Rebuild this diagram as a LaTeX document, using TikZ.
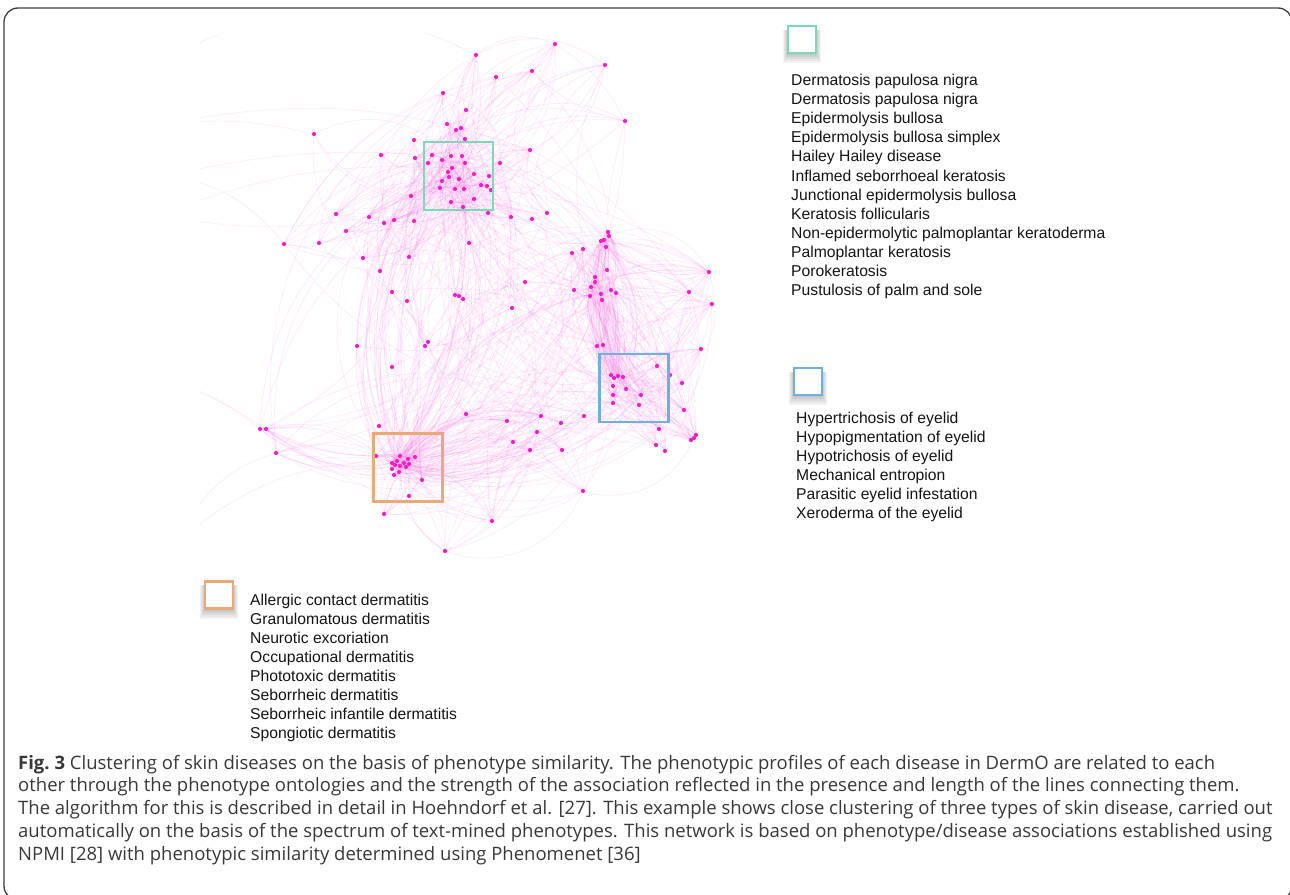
\documentclass[tikz,border=0pt]{standalone}
\usepackage{fontspec}
\setmainfont{Liberation Sans}
\newfontfamily\capfont{Open Sans}
\usetikzlibrary{positioning}
\definecolor{dermgreen}{RGB}{125,215,185}
\definecolor{dermblue}{RGB}{110,176,228}
\definecolor{dermorange}{RGB}{232,170,122}
\definecolor{dotpink}{RGB}{250,30,200}
\definecolor{linkpink}{RGB}{240,100,215}
\definecolor{framegray}{RGB}{60,60,60}
\tikzset{
    link/.style={draw=linkpink, line width=0.7pt, opacity=0.13},
    dot/.style={fill=dotpink},
    clusterbox/.style={draw, line width=2.4pt, inner sep=0pt, minimum width=69, minimum height=68},
    keybox/.style={draw, fill=white, line width=2.2pt, inner sep=0pt, minimum width=28, minimum height=27},
    keyshadow/.style={fill=black, opacity=0.05},
    legendline/.style={anchor=base west, inner sep=0pt, font=\fontsize{15.7}{19}\selectfont, text=black!92},
    capline/.style={anchor=base west, inner sep=0pt, font=\capfont\fontsize{18.5}{22}\selectfont, text=black!78},
}

\begin{document}
\begin{tikzpicture}[x=1pt, y=-1pt]
\useasboundingbox (0,0) rectangle (1290,894);
% \draw[step=50, very thin, gray!20] (0,0) grid (1290,894);
\draw[framegray, line width=1.3pt, rounded corners=14pt] (4,8) rectangle (1292,900);

%% network
\begin{scope}
\clip (200,33) rectangle (730,568);
\foreach \x/\y [count=\i] in {476/55,555/44,605/65,532/71,496/77,443/93,466/110,447/124,456/130,461/128,
    465/139,414/140,314/134,381/155,415/158,432/155,442/160,451/156,462/156,428/163,
    465/163,452/168,448/172,449/177,459/179,474/174,489/176,500/163,530/150,442/181,
    481/185,487/186,440/188,455/189,464/189,491/190,411/196,474/199,451/202,463/207,
    488/213,511/217,532/219,336/214,369/217,384/223,394/220,414/221,346/231,284/244,
    319/243,469/243,363/258,409/257,380/271,625/121,547/213,
    392/292,407/301,455/295,459/296,463/299,525/282,512/308,357/346,428/342,425/346,
    392/367,466/414,379/426,
    608/232,609/236,601/241,604/240,606/247,572/253,583/249,607/270,595/277,595/282,
    591/287,574/290,601/294,611/290,616/293,590/296,602/300,709/272,689/292,712/304,
    597/346,603/345,701/349,657/366,611/375,614/378,618/376,623/377,670/375,613/386,
    626/389,682/383,613/395,641/395,639/405,613/403,684/410,659/429,696/435,694/438,
    691/440,656/445,665/451,
    260/429,266/429,276/453,376/456,400/456,397/461,408/459,415/457,392/463,395/465,
    400/466,404/463,409/464,406/467,392/469,399/472,394/475,422/480,409/496,384/514,
    492/521,445/551,507/421,537/432,513/442,530/450,541/416,584/416,561/423,562/450,
    583/491}
    \coordinate (n\i) at (\x,\y);
\coordinate (w1) at (150,70);
\coordinate (w2) at (160,125);
\coordinate (w3) at (160,215);
\coordinate (w4) at (170,380);
\coordinate (w5) at (180,540);
\coordinate (w6) at (170,175);

\pgfmathsetseed{17}
% links inside the top cluster
\foreach \k in {1,...,260}{
    \pgfmathtruncatemacro{\ia}{random(1,57)}
    \pgfmathtruncatemacro{\ib}{random(1,57)}
    \pgfmathtruncatemacro{\bnd}{(2*random(0,1)-1)*random(12,45)}
    \draw[link] (n\ia) to[bend left=\bnd] (n\ib);
}
% links inside the right cluster
\foreach \k in {1,...,230}{
    \pgfmathtruncatemacro{\ia}{random(71,113)}
    \pgfmathtruncatemacro{\ib}{random(71,113)}
    \pgfmathtruncatemacro{\bnd}{(2*random(0,1)-1)*random(10,35)}
    \draw[link] (n\ia) to[bend left=\bnd] (n\ib);
}
% links inside the bottom cluster
\foreach \k in {1,...,160}{
    \pgfmathtruncatemacro{\ia}{random(114,144)}
    \pgfmathtruncatemacro{\ib}{random(114,144)}
    \pgfmathtruncatemacro{\bnd}{(2*random(0,1)-1)*random(12,45)}
    \draw[link] (n\ia) to[bend left=\bnd] (n\ib);
}
% hubs to anywhere
\foreach \k in {1,...,90}{
    \pgfmathtruncatemacro{\ia}{random(117,131)}
    \pgfmathtruncatemacro{\ib}{random(1,144)}
    \pgfmathtruncatemacro{\bnd}{(2*random(0,1)-1)*random(12,45)}
    \draw[link] (n\ia) to[bend left=\bnd] (n\ib);
}
\foreach \k in {1,...,90}{
    \pgfmathtruncatemacro{\ia}{random(15,40)}
    \pgfmathtruncatemacro{\ib}{random(1,144)}
    \pgfmathtruncatemacro{\bnd}{(2*random(0,1)-1)*random(12,45)}
    \draw[link] (n\ia) to[bend left=\bnd] (n\ib);
}
\foreach \k in {1,...,90}{
    \pgfmathtruncatemacro{\ia}{random(71,106)}
    \pgfmathtruncatemacro{\ib}{random(58,144)}
    \pgfmathtruncatemacro{\bnd}{(2*random(0,1)-1)*random(12,45)}
    \draw[link] (n\ia) to[bend left=\bnd] (n\ib);
}
\foreach \k in {1,...,120}{
    \pgfmathtruncatemacro{\ia}{random(1,144)}
    \pgfmathtruncatemacro{\ib}{random(1,144)}
    \pgfmathtruncatemacro{\bnd}{(2*random(0,1)-1)*random(12,45)}
    \draw[link] (n\ia) to[bend left=\bnd] (n\ib);
}
% long arcs running off to the left
\draw[link] (w1) to[bend left=30] (n1);
\draw[link] (w2) to[bend left=10] (n13);
\draw[link] (w2) to[bend left=15] (n29);
\draw[link] (w6) to[bend left=8] (n16);
\draw[link] (w3) to[bend left=12] (n22);
\draw[link] (w3) to[bend right=10] (n45);
\draw[link] (w6) to[bend left=20] (n50);
\draw[link] (w4) to[bend left=10] (n114);
\draw[link] (w4) to[bend left=6] (n115);
\draw[link] (w5) to[bend left=25] (n116);
\draw[link] (w5) to[bend left=20] (n119);

\foreach \i in {1,...,144}
    \fill[dot] (n\i) circle (2.1);
\end{scope}

%% cluster boxes
\node[clusterbox, draw=dermgreen] (greenbox) at (458.5,176) {};
\node[clusterbox, draw=dermblue] (bluebox) at (634,388) {};
\node[clusterbox, draw=dermorange] (orangebox) at (408,467.5) {};

%% keys
\foreach \s in {1,...,5}{
    \fill[keyshadow] (788-\s,30) rectangle (816+\s,53+2*\s);
    \fill[keyshadow] (794-\s,372) rectangle (822+\s,395+2*\s);
    \fill[keyshadow] (205-\s,585) rectangle (233+\s,609+2*\s);
}
\node[keybox, draw=dermgreen] (greenkey) at (802,39.5) {};
\node[keybox, draw=dermblue] (bluekey) at (808,381.5) {};
\node[keybox, draw=dermorange] (orangekey) at (219,595) {};

\foreach \t [count=\k] in {Dermatosis papulosa nigra, Dermatosis papulosa nigra,
    Epidermolysis bullosa, Epidermolysis bullosa simplex, Hailey Hailey disease,
    Inflamed seborrhoeal keratosis, Junctional epidermolysis bullosa,
    Keratosis follicularis, Non-epidermolytic palmoplantar keratoderma,
    Palmoplantar keratosis, Porokeratosis, Pustulosis of palm and sole}
    \node[legendline] (green\k) at (791,{85.5+19.1*(\k-1)}) {\t};

\foreach \t [count=\k] in {Hypertrichosis of eyelid, Hypopigmentation of eyelid,
    Hypotrichosis of eyelid, Mechanical entropion, Parasitic eyelid infestation,
    Xeroderma of the eyelid}
    \node[legendline] (blue\k) at (796,{423.5+19*(\k-1)}) {\t};

\foreach \t [count=\k] in {Allergic contact dermatitis, Granulomatous dermatitis,
    Neurotic excoriation, Occupational dermatitis, Phototoxic dermatitis,
    Seborrheic dermatitis, Seborrheic infantile dermatitis, Spongiotic dermatitis}
    \node[legendline] (orange\k) at (250,{605.5+19*(\k-1)}) {\t};

%% caption
\node[capline] (cap1) at (18,769) {\textbf{Fig.~3} Clustering of skin diseases on the basis of phenotype similarity. The phenotypic profiles of each disease in DermO are related to each};
\node[capline] (cap2) at (18,791.8) {other through the phenotype ontologies and the strength of the association reflected in the presence and length of the lines connecting them.};
\node[capline] (cap3) at (18,814.6) {The algorithm for this is described in detail in Hoehndorf et al. [27]. This example shows close clustering of three types of skin disease, carried out};
\node[capline] (cap4) at (18,837.4) {automatically on the basis of the spectrum of text-mined phenotypes. This network is based on phenotype/disease associations established using};
\node[capline] (cap5) at (18,860.2) {NPMI [28] with phenotypic similarity determined using Phenomenet [36]};
\end{tikzpicture}
\end{document}
